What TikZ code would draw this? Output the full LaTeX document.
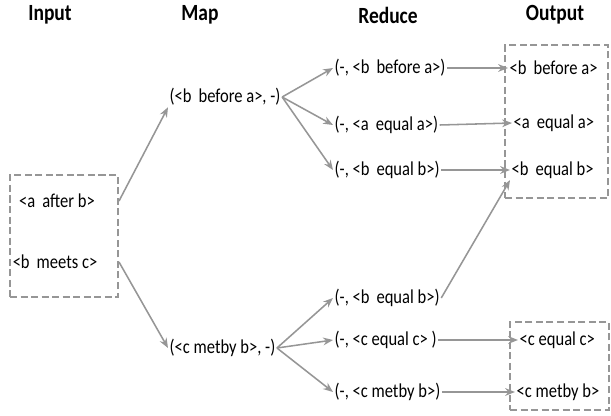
\documentclass[tikz,border=0pt]{standalone}
\usepackage{fontspec}
\setmainfont{Carlito}[FakeStretch=0.84]
\usetikzlibrary{arrows.meta}
\definecolor{linegray}{RGB}{150,150,150}
\tikzset{
    txt/.style={inner sep=1pt, font=\fontsize{14}{16}\selectfont},
    head/.style={inner sep=1pt, font=\fontsize{16.5}{18}\selectfont\bfseries},
    dashbox/.style={draw=linegray, line width=1.4pt, dash pattern=on 5pt off 2.5pt},
    flow/.style={draw=linegray, line width=1.1pt, -{Stealth[length=7pt, width=5.5pt]}},
}

\begin{document}
\begin{tikzpicture}[x=0.025cm, y=-0.025cm]
    \useasboundingbox (0, 0) rectangle (611, 415);
    \newcommand\posR{333}
    \newcommand\posM{168}

    % column headings
    \node[head] (hIn) at (50, 15){Input};
    \node[head] (hMap) at (200, 15){Map};
    \node[head] (hRed) at (388, 15){Reduce};
    \node[head] (hOut) at (555, 15){Output};

    % input
    \node[dashbox, minimum width=2.7cm, minimum height=3.05cm] (inBox) at (64, 236){};
    \node[txt] (inA) at (57, 201){<a\, after b>};
    \node[txt] (inB) at (55, 262){<b\, meets c>};

    % map
    \node[txt, anchor=west] (mapA) at (\posM, 97){(<b\, before a>, -)};
    \node[txt, anchor=west] (mapB) at (\posM, 348){(<c metby b>, -)};

    % reduce
    \node[txt, anchor=west] (redA) at (\posR, 68){(-, <b\, before a>)};
    \node[txt, anchor=west] (redB) at (\posR, 125){(-, <a\, equal a>)};
    \node[txt, anchor=west] (redC) at (\posR, 170){(-, <b\, equal b>)};
    \node[txt, anchor=west] (redD) at (\posR, 298){(-, <b\, equal b>)};
    \node[txt, anchor=west] (redE) at (\posR, 340){(-, <c equal c> )};
    \node[txt, anchor=west] (redF) at (\posR, 392){(-, <c metby b>)};

    % output
    \node[dashbox, minimum width=2.575cm, minimum height=3.825cm] (outBoxA) at (556.5, 121.5){};
    \node[dashbox, minimum width=2.475cm, minimum height=2.2cm] (outBoxB) at (559.5, 366){};
    \node[txt, anchor=west] (outA) at (508, 68){<b\, before a>};
    \node[txt, anchor=west] (outB) at (512, 123){<a\, equal a>};
    \node[txt, anchor=west] (outC) at (510, 170){<b\, equal b>};
    \node[txt, anchor=west] (outD) at (518, 340){<c equal c>};
    \node[txt, anchor=west] (outE) at (515, 392){<c metby b>};

    % connectors
    \draw[flow] (inBox.east |- inA) -- (mapA.south west);
    \draw[flow] (inBox.east |- inB) -- (mapB.west);
    \draw[flow] (mapA.east) -- (redA.west);
    \draw[flow] (mapA.east) -- (redB.west);
    \draw[flow] (mapA.east) -- (redC.west);
    \draw[flow] (mapB.east) -- (redD.west);
    \draw[flow] (mapB.east) -- (redE.west);
    \draw[flow] (mapB.east) -- (redF.west);
    \draw[flow] (redA.east) -- (outA.west);
    \draw[flow] (redB.east) -- (outB.west);
    \draw[flow] (redC.east) -- (outC.west);
    \draw[flow] (redD.east) -- (outC.south west);
    \draw[flow] (redE.east) -- (outD.west);
    \draw[flow] (redF.east) -- (outE.west);
\end{tikzpicture}
\end{document}
